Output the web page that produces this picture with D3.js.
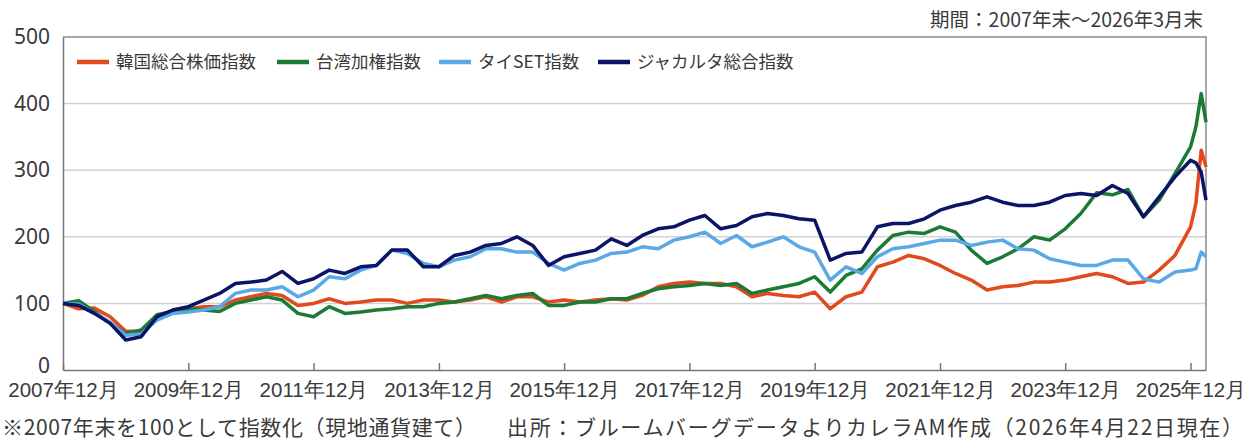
<!DOCTYPE html>
<html>
<head>
<meta charset="utf-8">
<script src="https://cdn.jsdelivr.net/npm/d3@7"></script>
<style>
  body { margin: 0; background: #fff; }
  svg { display: block; font-family: "Noto Sans CJK JP", "Noto Sans", sans-serif; }
</style>
</head>
<body>
<div id="chart"></div>
<script>
// Monthly end points (quarterly, plus the last three months)
const dates = [
  "2007-12","2008-03","2008-06","2008-09","2008-12","2009-03","2009-06","2009-09","2009-12",
  "2010-03","2010-06","2010-09","2010-12","2011-03","2011-06","2011-09","2011-12",
  "2012-03","2012-06","2012-09","2012-12","2013-03","2013-06","2013-09","2013-12",
  "2014-03","2014-06","2014-09","2014-12","2015-03","2015-06","2015-09","2015-12",
  "2016-03","2016-06","2016-09","2016-12","2017-03","2017-06","2017-09","2017-12",
  "2018-03","2018-06","2018-09","2018-12","2019-03","2019-06","2019-09","2019-12",
  "2020-03","2020-06","2020-09","2020-12","2021-03","2021-06","2021-09","2021-12",
  "2022-03","2022-06","2022-09","2022-12","2023-03","2023-06","2023-09","2023-12",
  "2024-03","2024-06","2024-09","2024-12","2025-03","2025-06","2025-09","2025-12",
  "2026-01","2026-02","2026-03"
];

const korea = [
  100, 92, 93, 80, 58, 58, 78, 88, 92,
  95, 95, 105, 110, 115, 112, 97, 100,
  107, 100, 102, 105, 105, 100, 105, 105,
  102, 105, 110, 102, 110, 110, 102, 105,
  102, 105, 107, 105, 112, 125, 130, 132,
  130, 130, 125, 110, 115, 112, 110, 117,
  92, 110, 117, 155, 162, 172, 167, 157,
  145, 135, 120, 125, 127, 132, 132, 135,
  140, 145, 140, 130, 132, 150, 172, 215,
  250, 330, 305
];

const taiwan = [
  100, 104, 88, 70, 55, 60, 83, 88, 92,
  90, 88, 100, 105, 110, 105, 85, 80,
  95, 85, 87, 90, 92, 95, 95, 100,
  102, 107, 112, 107, 112, 115, 97, 97,
  102, 102, 107, 107, 115, 122, 125, 127,
  130, 127, 130, 115, 120, 125, 130, 140,
  117, 142, 152, 180, 202, 207, 205, 215,
  207, 180, 160, 170, 182, 200, 195, 212,
  235, 266, 263, 271, 230, 255, 295, 335,
  365, 415, 372
];

const thai = [
  100, 99, 85, 72, 52, 54, 75, 85, 87,
  90, 95, 115, 120, 120, 125, 110, 120,
  140, 137, 150, 157, 180, 175, 160, 155,
  165, 170, 182, 182, 177, 177, 160, 150,
  160, 165, 175, 177, 185, 182, 195, 200,
  207, 190, 202, 185, 192, 200, 185, 177,
  135, 155, 145, 170, 182, 185, 190, 195,
  195, 187, 192, 195, 182, 180, 167, 162,
  157, 157, 165, 165, 137, 132, 147, 150,
  152, 177, 170
];

const jakarta = [
  100, 97, 85, 70, 45, 50, 80, 90, 95,
  105, 115, 130, 132, 135, 148, 130, 137,
  150, 145, 155, 157, 180, 180, 155, 155,
  172, 177, 187, 190, 200, 187, 157, 170,
  175, 180, 197, 187, 202, 212, 215, 225,
  232, 212, 217, 230, 235, 232, 227, 225,
  165, 175, 177, 215, 220, 220, 227, 240,
  247, 252, 260, 252, 247, 247, 252, 262,
  265, 262, 277, 265, 230, 260, 290, 315,
  311, 297, 255
];

const seriesNames = ["韓国総合株価指数", "台湾加権指数", "タイSET指数", "ジャカルタ総合指数"];
const seriesColors = ["#e04a1c", "#1c7a36", "#5aa9e6", "#0c1466"];
const seriesValues = [korea, taiwan, thai, jakarta];

const yTicks = [0, 100, 200, 300, 400, 500];
const xTicks = ["2007-12","2009-12","2011-12","2013-12","2015-12","2017-12","2019-12","2021-12","2023-12","2025-12"];
const xTickLabels = ["2007年12月","2009年12月","2011年12月","2013年12月","2015年12月","2017年12月","2019年12月","2021年12月","2023年12月","2025年12月"];

const titleText = "期間：2007年末～2026年3月末";
const noteText = "※2007年末を100として指数化（現地通貨建て）";
const sourceText = "出所：ブルームバーグデータよりカレラAM作成（2026年4月22日現在）";

// Set up dimensions
const width = 1253, height = 444;
const margin = { left: 63, right: 47, top: 37, bottom: 74 };
const parse = d3.timeParse("%Y-%m");

const svg = d3.select("#chart")
  .append("svg")
  .attr("width", width)
  .attr("height", height);

const x = d3.scaleTime()
  .domain([parse("2007-12"), parse("2026-03")])
  .range([margin.left, width - margin.right]);

const y = d3.scaleLinear()
  .domain([0, 500])
  .range([height - margin.bottom, margin.top]);

const textColor = "#3a3a3a";

// Gridlines
svg.append("g")
  .selectAll("line")
  .data(yTicks.filter(d => d > 0 && d < 500))
  .enter()
  .append("line")
  .attr("x1", margin.left)
  .attr("x2", width - margin.right)
  .attr("y1", d => y(d))
  .attr("y2", d => y(d))
  .attr("stroke", "#d2d2d2")
  .attr("stroke-width", 1.5);

// Frame: top and right border
svg.append("path")
  .attr("d", `M${margin.left},${y(500)}H${width - margin.right}V${y(0)}`)
  .attr("fill", "none")
  .attr("stroke", "#8a8a8a")
  .attr("stroke-width", 1.5);

// Y axis
const yAxis = svg.append("g")
  .attr("transform", `translate(${margin.left},0)`)
  .call(d3.axisLeft(y).tickValues(yTicks).tickSize(0).tickPadding(13));
yAxis.select(".domain").attr("stroke", "#777").attr("stroke-width", 1.5);
yAxis.selectAll("text")
  .attr("fill", textColor)
  .style("font-size", "21px")
  .style("font-family", "'Noto Sans', sans-serif");
// the 0 label sits a little above the axis line, as in the original
yAxis.selectAll(".tick")
  .filter(d => d === 0)
  .select("text")
  .attr("dy", "0.1em");

// X axis with ticks pointing inward
const xAxis = svg.append("g")
  .attr("transform", `translate(0,${y(0)})`)
  .call(d3.axisBottom(x)
    .tickValues(xTicks.map(parse))
    .tickFormat((d, i) => xTickLabels[i])
    .tickSizeInner(-7)
    .tickSizeOuter(0)
    .tickPadding(12));
xAxis.select(".domain").attr("stroke", "#777").attr("stroke-width", 1.5);
xAxis.selectAll(".tick line").attr("stroke", "#777").attr("stroke-width", 1.5);
xAxis.selectAll("text")
  .attr("fill", textColor)
  .style("font-size", "20.5px");

// Lines
const line = d3.line()
  .x((d, i) => x(parse(dates[i])))
  .y(d => y(d));

svg.append("g")
  .selectAll("path")
  .data(seriesValues)
  .enter()
  .append("path")
  .attr("d", d => line(d))
  .attr("fill", "none")
  .attr("stroke", (d, i) => seriesColors[i])
  .attr("stroke-width", 3.5)
  .attr("stroke-linejoin", "round");

// Legend
const legendX = [77, 277, 439, 598];
const legend = svg.append("g")
  .selectAll("g")
  .data(seriesNames)
  .enter()
  .append("g")
  .attr("transform", (d, i) => `translate(${legendX[i]},62)`);

legend.append("line")
  .attr("x1", 0)
  .attr("x2", 32)
  .attr("stroke", (d, i) => seriesColors[i])
  .attr("stroke-width", 4.5);

legend.append("text")
  .attr("x", 39)
  .attr("dy", "0.35em")
  .attr("fill", textColor)
  .style("font-size", "17.5px")
  .text(d => d);

// Period label, top right
svg.append("text")
  .attr("x", 1203)
  .attr("y", 20)
  .attr("dy", "0.35em")
  .attr("text-anchor", "end")
  .attr("fill", textColor)
  .style("font-size", "19.5px")
  .text(titleText);

// Footnotes
svg.append("text")
  .attr("x", 2)
  .attr("y", 428)
  .attr("dy", "0.35em")
  .attr("fill", textColor)
  .attr("textLength", 474)
  .attr("lengthAdjust", "spacing")
  .style("font-size", "21px")
  .text(noteText);

svg.append("text")
  .attr("x", 507)
  .attr("y", 428)
  .attr("dy", "0.35em")
  .attr("fill", textColor)
  .attr("textLength", 736)
  .attr("lengthAdjust", "spacing")
  .style("font-size", "21px")
  .text(sourceText);
</script>
</body>
</html>
